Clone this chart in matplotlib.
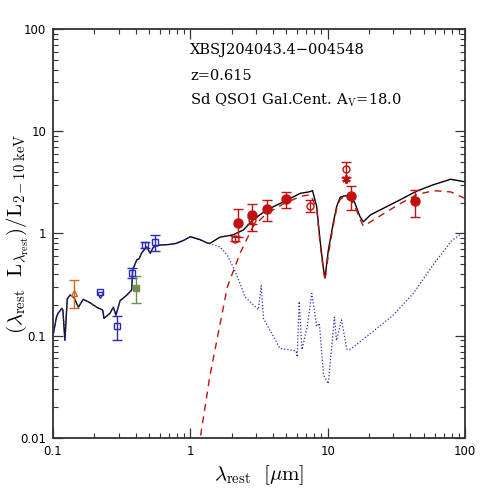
import matplotlib
matplotlib.use("Agg")
import matplotlib.pyplot as plt
from matplotlib.ticker import LogLocator, FixedLocator, FixedFormatter, NullFormatter

plt.rcParams['mathtext.fontset'] = 'cm'

# ---------------- data ----------------
# total model (black solid)
lam_tot = [0.100, 0.106, 0.109, 0.116, 0.118, 0.122, 0.127, 0.133, 0.142, 0.153, 0.166, 0.186,
           0.208, 0.230, 0.235, 0.260, 0.275, 0.287, 0.308, 0.345, 0.374, 0.380, 0.407, 0.425,
           0.440, 0.480, 0.510, 0.540, 0.600, 0.700, 0.790, 0.900, 1.00, 1.18, 1.32, 1.39, 1.64,
           2.05, 2.43, 2.86, 3.6, 4.77, 6.33, 7.3, 7.76, 8.32, 8.80, 9.34, 9.57, 10.12, 10.98,
           11.62, 12.3, 13.0, 14.6, 15.8, 17.2, 18.2, 20.5, 26.9, 33.6, 44.6, 59.0, 78.8, 100.0]
L_tot = [0.100, 0.153, 0.166, 0.185, 0.178, 0.090, 0.230, 0.250, 0.237, 0.190, 0.227, 0.210,
         0.190, 0.178, 0.148, 0.166, 0.190, 0.159, 0.220, 0.250, 0.280, 0.440, 0.550, 0.570,
         0.640, 0.740, 0.640, 0.740, 0.770, 0.780, 0.800, 0.860, 0.930, 0.870, 0.810, 0.800, 0.920,
         0.970, 1.08, 1.36, 1.70, 2.04, 2.47, 2.55, 2.62, 1.83, 0.86, 0.44, 0.37, 0.69, 1.26,
         1.83, 2.25, 2.32, 2.36, 1.98, 1.46, 1.30, 1.52, 1.83, 2.13, 2.60, 3.00, 3.39, 3.20]

# host galaxy (blue dotted)
lam_gal = [0.100, 0.106, 0.109, 0.116, 0.118, 0.122, 0.127, 0.133, 0.142, 0.153, 0.166, 0.186,
           0.208, 0.230, 0.235, 0.260, 0.275, 0.287, 0.308, 0.345, 0.374, 0.380, 0.407, 0.425,
           0.440, 0.480, 0.510, 0.540, 0.600, 0.700, 0.790, 0.900, 1.00, 1.18, 1.39, 1.64, 1.85,
           2.05, 2.25, 2.5, 3.13, 3.28, 3.41, 4.5, 5.9, 6.0, 6.2, 6.5, 7.1, 7.66, 8.32, 8.7, 9.34,
           10.1, 11.2, 11.6, 12.6, 13.8, 14.5, 20.5, 30.0, 42.1, 59.0, 80.0, 100.0]
L_gal = [0.100, 0.153, 0.166, 0.185, 0.178, 0.090, 0.230, 0.250, 0.237, 0.190, 0.227, 0.210,
         0.190, 0.178, 0.148, 0.166, 0.190, 0.159, 0.220, 0.250, 0.280, 0.440, 0.550, 0.570,
         0.640, 0.740, 0.640, 0.740, 0.770, 0.780, 0.800, 0.860, 0.930, 0.860, 0.790, 0.740, 0.620,
         0.470, 0.350, 0.240, 0.180, 0.310, 0.147, 0.075, 0.071, 0.062, 0.216, 0.073, 0.123, 0.260,
         0.123, 0.132, 0.041, 0.034, 0.152, 0.090, 0.143, 0.074, 0.073, 0.105, 0.159, 0.260, 0.500,
         0.850, 1.05]

# torus (red dashed)
lam_tor = [1.15, 1.39, 1.86, 2.3, 2.86, 3.6, 4.77, 6.33, 7.5, 8.32, 8.8, 9.34, 9.57, 10.12, 10.98,
           11.62, 12.3, 13.0, 14.6, 15.8, 17.2, 18.2, 20.5, 26.9, 33.6, 44.6, 59.0, 78.8, 100.0]
L_tor = [0.008, 0.041, 0.30, 0.64, 1.17, 1.57, 1.95, 2.30, 2.40, 1.75, 0.80, 0.42, 0.35, 0.62, 1.20,
         1.75, 2.15, 2.25, 2.20, 1.85, 1.38, 1.18, 1.30, 1.63, 1.95, 2.40, 2.62, 2.55, 2.20]

# photometry: red filled circles (mid-IR)
lam_red = [2.24, 2.8, 3.6, 4.98, 14.8, 43.6]
L_red = [1.28, 1.52, 1.74, 2.17, 2.34, 2.08]
L_red_lo = [0.93, 1.06, 1.31, 1.76, 1.69, 1.44]
L_red_hi = [1.74, 1.96, 2.12, 2.56, 2.92, 2.65]

# red open circles
lam_redo = [2.1, 2.8, 7.47, 13.5]
L_redo = [0.89, 1.35, 1.87, 4.25]
L_redo_lo = [0.84, 1.25, 1.64, 3.60]
L_redo_hi = [0.95, 1.45, 2.12, 4.98]

# red asterisk
lam_star = [13.5]
L_star = [3.39]

# blue open squares (optical)
lam_blue = [0.291, 0.378, 0.465, 0.557]
L_blue = [0.124, 0.414, 0.772, 0.82]
L_blue_lo = [0.090, 0.37, 0.72, 0.68]
L_blue_hi = [0.157, 0.46, 0.82, 0.97]

# blue upper limit
lam_ul = [0.22]
L_ul = [0.27]

# orange open triangle (UV)
lam_uv = [0.142]
L_uv = [0.264]
L_uv_lo = [0.187]
L_uv_hi = [0.349]

# green filled square
lam_gr = [0.40]
L_gr = [0.295]
L_gr_lo = [0.207]
L_gr_hi = [0.38]

x_ticks = [0.1, 1, 10, 100]
x_ticklabels = ['0.1', '1', '10', '100']
y_ticks = [0.01, 0.1, 1, 10, 100]
y_ticklabels = ['0.01', '0.1', '1', '10', '100']

# ---------------- plot ----------------
RED = '#c01010'
BLUE = '#2a2ab8'
ORANGE = '#d2661a'
GREEN = '#6f8f4a'

fig = plt.figure(figsize=(4.91, 4.91), dpi=100)
ax = fig.add_axes([0.108, 0.108, 0.839, 0.833])
ax.set_xscale('log')
ax.set_yscale('log')
ax.set_xlim(0.1, 100)
ax.set_ylim(0.01, 100)

ax.plot(lam_tot, L_tot, color='black', lw=1.0, zorder=2)
ax.plot(lam_tor, L_tor, color=RED, lw=1.0, ls=(0, (5, 4)), zorder=3)
ax.plot(lam_gal, L_gal, color=BLUE, lw=0.9, ls=(0, (1, 1.6)), zorder=4)

def yerr(v, lo, hi):
    return [[a - b for a, b in zip(v, lo)], [c - a for a, c in zip(v, hi)]]

ax.errorbar(lam_red, L_red, yerr=yerr(L_red, L_red_lo, L_red_hi), fmt='o', color=RED,
            ms=6.5, capsize=3.5, elinewidth=1.0, capthick=1.0, zorder=6)
ax.errorbar(lam_redo, L_redo, yerr=yerr(L_redo, L_redo_lo, L_redo_hi), fmt='o', color=RED,
            mfc='none', ms=5, capsize=3.5, elinewidth=1.0, capthick=1.0, zorder=6)
ax.plot(lam_star, L_star, marker=(6, 2, 0), color=RED, ms=6, mew=1.5, ls='none', zorder=6)
ax.errorbar(lam_blue, L_blue, yerr=yerr(L_blue, L_blue_lo, L_blue_hi), fmt='s', color=BLUE,
            mfc='none', ms=4.5, capsize=3.5, elinewidth=1.0, capthick=1.0, zorder=6)
ax.plot(lam_ul, L_ul, marker='s', color=BLUE, mfc='none', ms=4.5, ls='none', zorder=6)
ax.plot(lam_ul, [v * 0.93 for v in L_ul], marker='v', color=BLUE, mfc='none', ms=5, ls='none', zorder=6)
ax.errorbar(lam_uv, L_uv, yerr=yerr(L_uv, L_uv_lo, L_uv_hi), fmt='^', color=ORANGE,
            mfc='none', ms=5, capsize=3.5, elinewidth=1.0, capthick=1.0, zorder=6)
ax.errorbar(lam_gr, L_gr, yerr=yerr(L_gr, L_gr_lo, L_gr_hi), fmt='s', color=GREEN,
            ms=4.5, capsize=3.5, elinewidth=1.0, capthick=1.0, zorder=6)

# ticks
ax.xaxis.set_major_locator(FixedLocator(x_ticks))
ax.xaxis.set_major_formatter(FixedFormatter(x_ticklabels))
ax.yaxis.set_major_locator(FixedLocator(y_ticks))
ax.yaxis.set_major_formatter(FixedFormatter(y_ticklabels))
ax.xaxis.set_minor_locator(LogLocator(base=10, subs=range(2, 10), numticks=20))
ax.yaxis.set_minor_locator(LogLocator(base=10, subs=range(2, 10), numticks=20))
ax.xaxis.set_minor_formatter(NullFormatter())
ax.yaxis.set_minor_formatter(NullFormatter())
ax.tick_params(which='both', direction='in', top=True, right=True, color='#333333')
ax.tick_params(which='major', length=7, width=0.9, labelsize=8.5, pad=5)
ax.tick_params(which='minor', length=3.5, width=0.8)
for s in ax.spines.values():
    s.set_linewidth(1.3)
    s.set_color('#333333')

ax.set_xlabel(r'$\lambda_{\rm rest}\ \ [\mu{\rm m}]$', fontsize=15, labelpad=4)
ax.set_ylabel(r'$(\lambda_{\rm rest}\ \ {\rm L}_{\lambda_{\rm rest}})/{\rm L}_{2-10\ {\rm keV}}$',
              fontsize=15)
ax.yaxis.set_label_coords(-0.053, 0.5)

tkw = dict(transform=ax.transAxes, fontsize=10.5, family='DejaVu Serif', color='black')
ax.text(0.333, 0.938, 'XBSJ204043.4\u2212004548', **tkw)
ax.text(0.333, 0.875, 'z=0.615', **tkw)
ax.text(0.333, 0.815, r'Sd QSO1 Gal.Cent. A$_{\rm V}$=18.0', **tkw)

fig.savefig('out.png', dpi=100)
